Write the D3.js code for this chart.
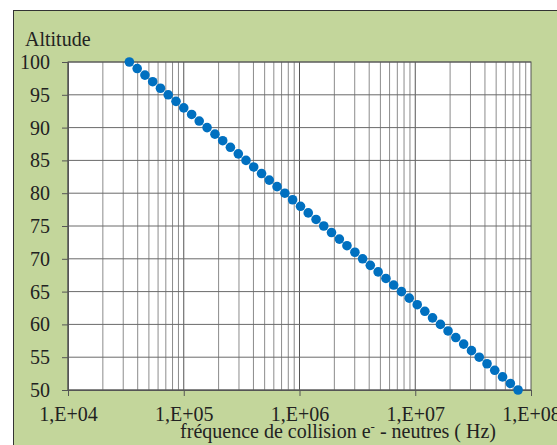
<!DOCTYPE html>
<html>
<head>
<meta charset="utf-8">
<script src="https://cdn.jsdelivr.net/npm/d3@7"></script>
<style>
  body { margin: 0; background: #fff; }
  svg text { font-family: "Liberation Serif", "Times New Roman", serif; fill: #222; }
</style>
</head>
<body>
<svg id="chart" width="557" height="445"></svg>
<script>
// altitude (km)
const altitudes = [100, 99, 98, 97, 96, 95, 94, 93, 92, 91, 90, 89, 88, 87, 86, 85, 84, 83, 82, 81,
  80, 79, 78, 77, 76, 75, 74, 73, 72, 71, 70, 69, 68, 67, 66, 65, 64, 63, 62, 61,
  60, 59, 58, 57, 56, 55, 54, 53, 52, 51, 50];

// collision frequency e- / neutrals (Hz)
const frequencies = [3.39e4, 3.96e4, 4.62e4, 5.39e4, 6.29e4, 7.34e4, 8.57e4, 1.00e5, 1.17e5, 1.36e5,
  1.59e5, 1.86e5, 2.17e5, 2.53e5, 2.96e5, 3.45e5, 4.02e5, 4.70e5, 5.48e5, 6.40e5,
  7.47e5, 8.72e5, 1.02e6, 1.19e6, 1.39e6, 1.62e6, 1.89e6, 2.21e6, 2.57e6, 3.01e6,
  3.51e6, 4.09e6, 4.78e6, 5.58e6, 6.51e6, 7.60e6, 8.87e6, 1.04e7, 1.21e7, 1.41e7,
  1.65e7, 1.92e7, 2.24e7, 2.62e7, 3.06e7, 3.57e7, 4.17e7, 4.86e7, 5.68e7, 6.63e7,
  7.73e7];

const yTicks = [50, 55, 60, 65, 70, 75, 80, 85, 90, 95, 100];
const xTicks = [1e4, 1e5, 1e6, 1e7, 1e8];
const xTickLabels = ["1,E+04", "1,E+05", "1,E+06", "1,E+07", "1,E+08"];

const svg = d3.select("#chart");
const fontSize = 20;

// green chart area with dark frame
svg.append("rect")
  .attr("x", 13.5).attr("y", 10.5)
  .attr("width", 560).attr("height", 450)
  .attr("fill", "#c3d69b")
  .attr("stroke", "#333").attr("stroke-width", 1);

const plot = { left: 68, right: 531, top: 62, bottom: 390 };

const x = d3.scaleLog().domain([1e4, 1e8]).range([plot.left, plot.right]);
const y = d3.scaleLinear().domain([50, 100]).range([plot.bottom, plot.top]);

svg.append("rect")
  .attr("x", plot.left).attr("y", plot.top)
  .attr("width", plot.right - plot.left).attr("height", plot.bottom - plot.top)
  .attr("fill", "#fff");

// vertical grid (log minor + major)
const minor = [];
for (let e = 4; e < 8; e++) {
  for (let m = 1; m <= 9; m++) minor.push(m * Math.pow(10, e));
}
svg.append("g")
  .selectAll("line")
  .data(minor)
  .join("line")
  .attr("x1", d => x(d)).attr("x2", d => x(d))
  .attr("y1", plot.top).attr("y2", plot.bottom)
  .attr("stroke", d => xTicks.includes(d) ? "#555" : "#8c8c8c")
  .attr("stroke-width", 1);

// horizontal grid
svg.append("g")
  .selectAll("line")
  .data(yTicks)
  .join("line")
  .attr("x1", plot.left).attr("x2", plot.right)
  .attr("y1", d => y(d)).attr("y2", d => y(d))
  .attr("stroke", "#6a6a6a")
  .attr("stroke-width", 1);

// plot border
svg.append("rect")
  .attr("x", plot.left).attr("y", plot.top)
  .attr("width", plot.right - plot.left).attr("height", plot.bottom - plot.top)
  .attr("fill", "none")
  .attr("stroke", "#555");

// axes
const yAxis = d3.axisLeft(y).tickValues(yTicks).tickSize(6).tickPadding(12);
const gy = svg.append("g").attr("transform", `translate(${plot.left},0)`).call(yAxis);
gy.attr("font-size", fontSize);
gy.select(".domain").attr("stroke", "#555");
gy.selectAll(".tick line").attr("stroke", "#555");
gy.selectAll(".tick text").attr("fill", "#222");

const xAxis = d3.axisBottom(x).tickValues(xTicks)
  .tickFormat((d, i) => xTickLabels[i]).tickSize(6).tickPadding(11);
const gx = svg.append("g").attr("transform", `translate(0,${plot.bottom})`).call(xAxis);
gx.attr("font-size", fontSize);
gx.select(".domain").attr("stroke", "#555");
gx.selectAll(".tick line").attr("stroke", "#555");
gx.selectAll(".tick text").attr("fill", "#222");

// titles
svg.append("text")
  .attr("x", 25).attr("y", 46)
  .attr("font-size", fontSize)
  .text("Altitude");

const xt = svg.append("text")
  .attr("x", 338).attr("y", 438)
  .attr("text-anchor", "middle")
  .attr("font-size", fontSize);
xt.append("tspan").text("fréquence de collision e");
xt.append("tspan").attr("dy", -7).attr("font-size", 13).text("-");
xt.append("tspan").attr("dy", 7).text(" - neutres ( Hz)");

// data points
svg.append("g")
  .selectAll("circle")
  .data(altitudes)
  .join("circle")
  .attr("cx", (d, i) => x(frequencies[i]))
  .attr("cy", d => y(d))
  .attr("r", 4.8)
  .attr("fill", "#0070c0");
</script>
</body>
</html>
